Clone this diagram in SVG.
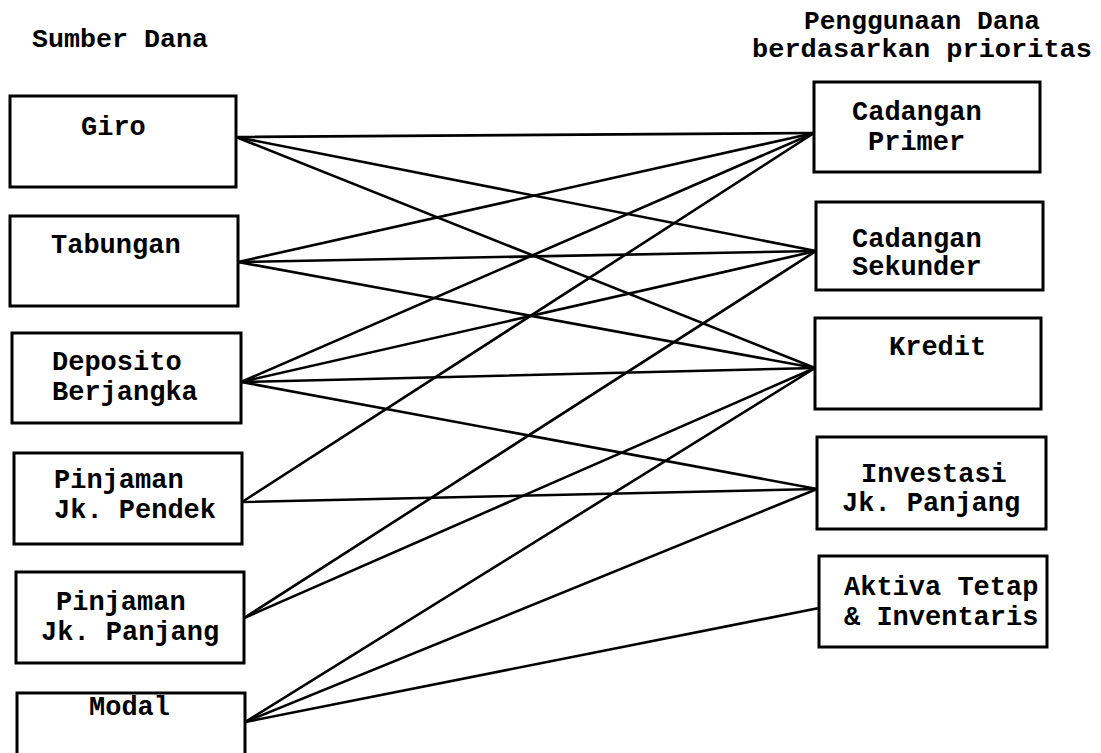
<svg xmlns="http://www.w3.org/2000/svg" width="1101" height="753" viewBox="0 0 1101 753">
<style>
  .box { fill: #fff; stroke: #000; stroke-width: 3; }
  .t { font-family: "Liberation Mono", "DejaVu Sans Mono", monospace; font-weight: bold; font-size: 27px; fill: #000; }
  .h { font-family: "Liberation Mono", "DejaVu Sans Mono", monospace; font-weight: bold; font-size: 25px; fill: #000; }
  .c line { stroke: #000; stroke-width: 2.6; stroke-linecap: round; }
</style>
<rect width="1101" height="753" fill="#fff"/>

<g id="headers">
  <text class="h" x="32" y="47" textLength="176" lengthAdjust="spacingAndGlyphs">Sumber Dana</text>
  <text class="h" x="804" y="29" textLength="236" lengthAdjust="spacingAndGlyphs">Penggunaan Dana</text>
  <text class="h" x="752" y="57" textLength="340" lengthAdjust="spacingAndGlyphs">berdasarkan prioritas</text>
</g>

<g id="connectors" class="c">
  <line x1="236" y1="137" x2="814" y2="133"/>
  <line x1="236" y1="137" x2="816" y2="251"/>
  <line x1="236" y1="137" x2="815" y2="368"/>
  <line x1="238" y1="262" x2="814" y2="133"/>
  <line x1="238" y1="262" x2="816" y2="251"/>
  <line x1="238" y1="262" x2="815" y2="368"/>
  <line x1="241" y1="382" x2="814" y2="133"/>
  <line x1="241" y1="382" x2="816" y2="251"/>
  <line x1="241" y1="382" x2="815" y2="368"/>
  <line x1="241" y1="382" x2="817" y2="489"/>
  <line x1="242" y1="502" x2="814" y2="133"/>
  <line x1="242" y1="502" x2="817" y2="489"/>
  <line x1="244" y1="618" x2="816" y2="251"/>
  <line x1="244" y1="618" x2="815" y2="368"/>
  <line x1="245" y1="722" x2="815" y2="368"/>
  <line x1="245" y1="722" x2="817" y2="489"/>
  <line x1="245" y1="722" x2="819" y2="608"/>
</g>

<g id="giro">
  <rect class="box" x="10" y="96" width="226" height="91"/>
  <text class="t" x="81" y="135">Giro</text>
</g>
<g id="tabungan">
  <rect class="box" x="10" y="216" width="228" height="90"/>
  <text class="t" x="51" y="253">Tabungan</text>
</g>
<g id="deposito">
  <rect class="box" x="12" y="333" width="229" height="90"/>
  <text class="t" x="52" y="370">Deposito</text>
  <text class="t" x="52" y="400">Berjangka</text>
</g>
<g id="pinjaman-pendek">
  <rect class="box" x="14" y="453" width="228" height="91"/>
  <text class="t" x="54" y="488">Pinjaman</text>
  <text class="t" x="54" y="518">Jk. Pendek</text>
</g>
<g id="pinjaman-panjang">
  <rect class="box" x="16" y="572" width="228" height="91"/>
  <text class="t" x="56" y="610">Pinjaman</text>
  <text class="t" x="41" y="640">Jk. Panjang</text>
</g>
<g id="modal">
  <rect class="box" x="17" y="693" width="228" height="80"/>
  <text class="t" x="89" y="715">Modal</text>
</g>

<g id="cadangan-primer">
  <rect class="box" x="814" y="82" width="226" height="90"/>
  <text class="t" x="852" y="120">Cadangan</text>
  <text class="t" x="868" y="150">Primer</text>
</g>
<g id="cadangan-sekunder">
  <rect class="box" x="816" y="202" width="227" height="88"/>
  <text class="t" x="852" y="247">Cadangan</text>
  <text class="t" x="852" y="275">Sekunder</text>
</g>
<g id="kredit">
  <rect class="box" x="815" y="318" width="226" height="91"/>
  <text class="t" x="889" y="355">Kredit</text>
</g>
<g id="investasi">
  <rect class="box" x="817" y="437" width="229" height="92"/>
  <text class="t" x="861" y="482">Investasi</text>
  <text class="t" x="842" y="511">Jk. Panjang</text>
</g>
<g id="aktiva">
  <rect class="box" x="819" y="556" width="228" height="91"/>
  <text class="t" x="844" y="595">Aktiva Tetap</text>
  <text class="t" x="844" y="625">&amp; Inventaris</text>
</g>
</svg>
